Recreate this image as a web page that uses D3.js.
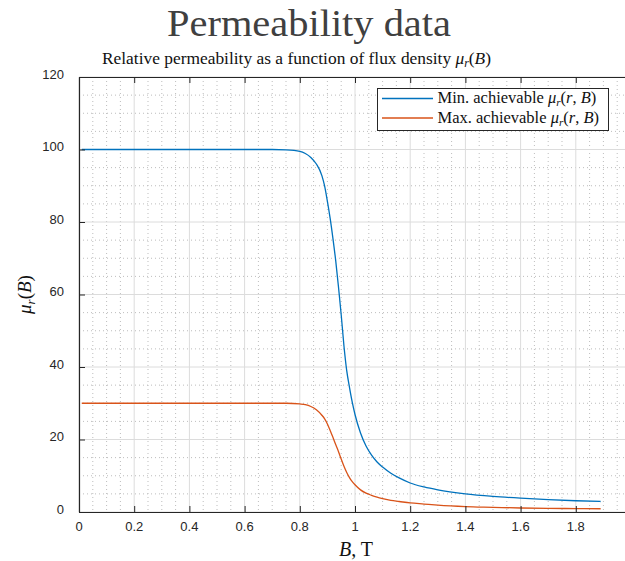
<!DOCTYPE html>
<html>
<head>
<meta charset="utf-8">
<script src="https://cdn.jsdelivr.net/npm/d3@7"></script>
<style>
  html, body { margin: 0; padding: 0; background: #fff; }
  svg { display: block; }
</style>
</head>
<body>
<svg id="chart" width="625" height="561"></svg>
<script>
// Flux density samples (T)
const fluxDensity = [0.01, 0.2, 0.4, 0.6, 0.7, 0.75, 0.8, 0.82, 0.84, 0.86, 0.88, 0.89, 0.90, 0.91, 0.92,
  0.93, 0.94, 0.95, 0.96, 0.97, 0.98, 0.99, 1.00, 1.02, 1.04, 1.06, 1.08, 1.10, 1.13, 1.16, 1.20,
  1.25, 1.30, 1.40, 1.50, 1.60, 1.70, 1.80, 1.89];
// Minimum achievable relative permeability
const muMin = [100, 100, 100, 100, 100, 99.9, 99.5, 98.9, 97.8, 96.0, 92.8, 89.9, 85.7, 81.0, 75.5,
  69.4, 62.2, 54.4, 45.8, 39.0, 34.4, 30.3, 26.9, 21.8, 18.2, 15.7, 13.8, 12.4, 10.7, 9.4, 8.0,
  6.9, 6.1, 5.0, 4.3, 3.8, 3.4, 3.1, 2.9];
// Maximum achievable relative permeability
const muMax = [30, 30, 30, 30, 30, 30, 29.8, 29.6, 29.1, 28.2, 26.7, 25.7, 24.3, 22.5, 20.6,
  18.6, 16.7, 14.6, 12.6, 10.9, 9.5, 8.4, 7.5, 6.1, 5.2, 4.6, 4.1, 3.7, 3.2, 2.9, 2.5,
  2.2, 1.9, 1.5, 1.3, 1.1, 1.0, 0.95, 0.9];

const xTicks = [0, 0.2, 0.4, 0.6, 0.8, 1, 1.2, 1.4, 1.6, 1.8];
const yTicks = [0, 20, 40, 60, 80, 100, 120];
const seriesNames = ["Min. achievable", "Max. achievable"];
const seriesColors = ["#0072BD", "#D95319"];

const svg = d3.select("#chart");
const plotLeft = 79, plotTop = 77, plotBottom = 512, plotRight = 631;

const x = d3.scaleLinear().domain([0, 2]).range([plotLeft, plotRight]);
const y = d3.scaleLinear().domain([0, 120]).range([plotBottom, plotTop]);

const serif = "'Liberation Serif', 'Times New Roman', serif";
const sans = "'Liberation Sans', Arial, sans-serif";
const axisColor = "#262626";

// Write text with simple math: parts are [text, italic, subscript]
function mathText(sel, parts) {
  let sub = false;
  parts.forEach(([t, it, s]) => {
    const ts = sel.append("tspan").text(t);
    if (it) ts.attr("font-style", "italic");
    if (s && !sub) { ts.attr("dy", "0.3em").attr("font-size", "68%"); sub = true; }
    else if (s) { ts.attr("font-size", "68%"); }
    else if (!s && sub) { ts.attr("dy", "-0.2em"); sub = false; }
  });
  return sel;
}

// Minor grid (dotted)
const xMinor = d3.range(0, 2.0001, 0.05).filter(v => Math.abs(v * 5 - Math.round(v * 5)) > 1e-6);
const yMinor = d3.range(0, 120.0001, 5).filter(v => v % 20 !== 0);
const grid = svg.append("g");
grid.selectAll(".xm").data(xMinor).join("line")
  .attr("x1", d => x(d)).attr("x2", d => x(d)).attr("y1", plotTop).attr("y2", plotBottom)
  .attr("stroke", "#bdbdbd").attr("stroke-width", 1).attr("stroke-dasharray", "1,3");
grid.selectAll(".ym").data(yMinor).join("line")
  .attr("x1", plotLeft).attr("x2", plotRight).attr("y1", d => y(d)).attr("y2", d => y(d))
  .attr("stroke", "#bdbdbd").attr("stroke-width", 1).attr("stroke-dasharray", "1,3");

// Major grid (solid)
grid.selectAll(".xg").data(xTicks.concat([2])).join("line")
  .attr("x1", d => x(d)).attr("x2", d => x(d)).attr("y1", plotTop).attr("y2", plotBottom)
  .attr("stroke", "#dcdcdc").attr("stroke-width", 1);
grid.selectAll(".yg").data(yTicks).join("line")
  .attr("x1", plotLeft).attr("x2", plotRight).attr("y1", d => y(d)).attr("y2", d => y(d))
  .attr("stroke", "#dcdcdc").attr("stroke-width", 1);

// Curves
const rows = fluxDensity.map((b, i) => ({ b, lo: muMin[i], hi: muMax[i] }));
const line = key => d3.line().x(d => x(d.b)).y(d => y(d[key])).curve(d3.curveMonotoneX);
svg.append("path").datum(rows).attr("d", line("lo"))
  .attr("fill", "none").attr("stroke", seriesColors[0]).attr("stroke-width", 1.3);
svg.append("path").datum(rows).attr("d", line("hi"))
  .attr("fill", "none").attr("stroke", seriesColors[1]).attr("stroke-width", 1.3);

// Axes (inward ticks, labels drawn separately)
const axB = svg.append("g").attr("transform", `translate(0,${plotBottom})`)
  .call(d3.axisBottom(x).tickValues(xTicks).tickSizeInner(-6).tickSizeOuter(0).tickFormat(""));
const axT = svg.append("g").attr("transform", `translate(0,${plotTop})`)
  .call(d3.axisTop(x).tickValues(xTicks).tickSizeInner(-6).tickSizeOuter(0).tickFormat(""));
const axL = svg.append("g").attr("transform", `translate(${plotLeft},0)`)
  .call(d3.axisLeft(y).tickValues(yTicks).tickSizeInner(-6).tickSizeOuter(0).tickFormat(""));
[axB, axT, axL].forEach(g => {
  g.select(".domain").attr("stroke", axisColor).attr("stroke-width", 1.2);
  g.selectAll(".tick line").attr("stroke", axisColor).attr("stroke-width", 1);
});

// Tick labels
svg.append("g").selectAll("text").data(xTicks).join("text")
  .attr("x", d => x(d)).attr("y", plotBottom + 18.5)
  .attr("text-anchor", "middle").attr("font-family", sans).attr("font-size", 13)
  .attr("fill", axisColor).text(d => d3.format("")(d));
svg.append("g").selectAll("text").data(yTicks).join("text")
  .attr("x", 64).attr("y", d => y(d) + 1.5)
  .attr("text-anchor", "end").attr("font-family", sans).attr("font-size", 13)
  .attr("fill", axisColor).text(d => d);

// Titles
svg.append("text").attr("x", 309).attr("y", 36).attr("text-anchor", "middle")
  .attr("font-family", serif).attr("font-size", 37).attr("fill", "#404040")
  .attr("textLength", 284).attr("lengthAdjust", "spacingAndGlyphs")
  .text("Permeability data");
mathText(svg.append("text").attr("x", 296.5).attr("y", 63.5).attr("text-anchor", "middle")
  .attr("font-family", serif).attr("font-size", 17.4).attr("fill", "#111"),
  [["Relative permeability as a function of flux density ", false, false], ["μ", true, false], ["r", true, true], ["(", false, false], ["B", true, false], [")", false, false]]);

// Axis labels
mathText(svg.append("text").attr("transform", `translate(31,${(plotTop + plotBottom) / 2}) rotate(-90)`)
  .attr("text-anchor", "middle").attr("font-family", serif).attr("font-size", 19).attr("fill", "#111"),
  [["μ", true, false], ["r", true, true], ["(", false, false], ["B", true, false], [")", false, false]]);
mathText(svg.append("text").attr("x", 356).attr("y", 556).attr("text-anchor", "middle")
  .attr("font-family", serif).attr("font-size", 20).attr("fill", "#111"),
  [["B", true, false], [", T", false, false]]);

// Legend
const lg = svg.append("g");
lg.append("rect").attr("x", 377.5).attr("y", 88.5).attr("width", 231).attr("height", 42)
  .attr("fill", "#fff").attr("stroke", axisColor).attr("stroke-width", 1);
seriesNames.forEach((name, i) => {
  const yy = 98.5 + i * 19.5;
  lg.append("line").attr("x1", 382).attr("x2", 433).attr("y1", yy).attr("y2", yy)
    .attr("stroke", seriesColors[i]).attr("stroke-width", 1.3);
  mathText(lg.append("text").attr("x", 437.5).attr("y", yy + 4.5)
    .attr("font-family", serif).attr("font-size", 16.5).attr("fill", "#111"),
    [[name + " ", false, false], ["μ", true, false], ["r", true, true], ["(", false, false], ["r", true, false], [", ", false, false], ["B", true, false], [")", false, false]]);
});
</script>
</body>
</html>
